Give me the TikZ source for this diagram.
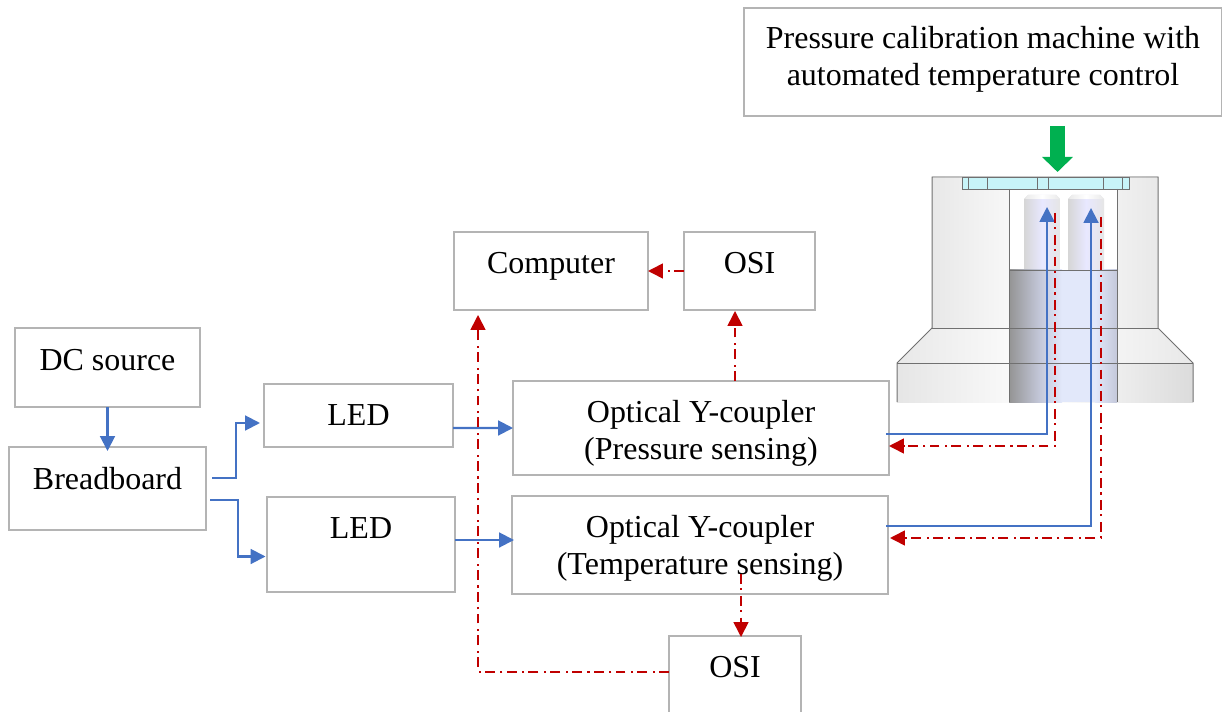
\documentclass[tikz,border=0pt]{standalone}
\usepackage{fontspec}
\setmainfont{Liberation Serif}
\usetikzlibrary{arrows.meta}
\definecolor{bluewire}{HTML}{4472C4}
\definecolor{redwire}{HTML}{C00000}
\definecolor{greenarrow}{HTML}{00B050}
\definecolor{boxgray}{HTML}{B4B4B4}
\definecolor{cutline}{HTML}{707070}
\definecolor{cylpale}{HTML}{E2E8FA}
\definecolor{cylmid}{HTML}{C4C8DA}
\definecolor{capcyan}{HTML}{C8F4F8}
\tikzset{
  blockbox/.style n args={2}{draw=boxgray, line width=0.9pt, inner sep=0pt, outer sep=0pt, align=center, minimum width=#1*0.02cm, minimum height=#2*0.02cm},
  drop/.style={text height=20*0.02cm, text depth=(20+2*(#1))*0.02cm},
  bluewire/.style={draw=bluewire, line width=1.15pt, ->},
  redwire/.style={draw=redwire, line width=0.95pt, ->, dash pattern=on 5.6pt off 2.4pt on 1.2pt off 3.2pt},
  cut/.style={cutline, line width=0.55pt},
}
\begin{document}
\begin{tikzpicture}[x=0.02cm, y=-0.02cm, >={Triangle[length=8.5pt,width=8.5pt]}, font=\fontsize{18.2}{21}\selectfont]
\useasboundingbox (0,0) rectangle (1222,712);
% machine
\shade[left color=black!9, right color=black!9, middle color=white] (932,177) rectangle (1158,328);
\shade[left color=black!9, right color=black!9, middle color=white] (932,328) -- (1158,328) -- (1193,363) -- (897,363) -- cycle;
\shade[left color=black!10, right color=black!14, middle color=white] (897,363) rectangle (1193,402);
\fill[white] (1009,189) rectangle (1117,270);
\foreach \x in {1024,1068} {
  \shade[left color=black!16, right color=black!10, middle color=blue!9] (\x,199) -- (\x+4,195) -- (\x+32,195) -- (\x+36,199) -- (\x+36,270) -- (\x,270) -- cycle;
  \shade[left color=black!8, right color=black!8, middle color=white] (\x+1,199) -- (\x+4,195) -- (\x+32,195) -- (\x+35,199) -- cycle;
}
\shade[left color=black!42, right color=cylmid] (1009,270) rectangle (1040,402);
\shade[left color=cylmid, right color=cylpale] (1040,270) rectangle (1062,402);
\fill[cylpale] (1062,270) rectangle (1095,402);
\shade[left color=cylpale, right color=cylmid] (1095,270) rectangle (1117,402);
\fill[capcyan] (962,177) rectangle (1129,189);
\draw[cut] (932,328) -- (932,177) -- (1158,177) -- (1158,328) -- (1193,363) -- (1193,402);
\draw[cut] (932,328) -- (897,363) -- (897,402);
\draw[cut] (932,328) -- (1158,328) (897,363) -- (1193,363);
\draw[cut] (1009,189) -- (1009,402) (1117,189) -- (1117,402) (1009,270) -- (1117,270);
\draw[cut] (962,177) rectangle (1129,189);
\foreach \x in {968,987,1037,1048,1103,1122} \draw[cut] (\x,177) -- (\x,189);
% blocks
\node[blockbox={478}{108}] (machine) at (983,62) {Pressure calibration machine with\\automated temperature control\rule[-7.4pt]{0pt}{7.4pt}};
\node[blockbox={194}{78}, drop=-3] (computer) at (551,271) {Computer};
\node[blockbox={131}{78}, drop=-3] (ositop) at (749.5,271) {OSI};
\node[blockbox={185}{79}, drop=-3] (dc) at (107.5,367.5) {DC source};
\node[blockbox={197}{83}, drop=-1] (board) at (107.5,488.5) {Breadboard};
\node[blockbox={189}{63}, drop=-10] (ledone) at (358.5,415.5) {LED};
\node[blockbox={188}{95}, drop=6] (ledtwo) at (361,544.5) {LED};
\node[blockbox={376}{94}] (ypress) at (701,428) {\rule{0pt}{19.1pt}Optical Y-coupler\\(Pressure sensing)};
\node[blockbox={376}{98}] (ytemp) at (700,545) {\rule{0pt}{16.6pt}Optical Y-coupler\\(Temperature sensing)};
\node[blockbox={132}{84}, drop=1] (osibot) at (735,678) {OSI};
% wires
\coordinate (pinone) at (1047,207);
\coordinate (pintwo) at (1091,208);
\coordinate (redone) at (1055,213);
\coordinate (redtwo) at (1101,217);
\draw[bluewire] (dc.south) -- ([shift={(0,4)}]board.north);
\draw[bluewire] ([shift={(6,-10.5)}]board.east) -- ++(24,0) |- ([shift={(-4,7.5)}]ledone.west);
\draw[bluewire] ([shift={(4,11.5)}]board.east) -- ++(28,0) |- ([shift={(-1.5,12)}]ledtwo.west);
\draw[bluewire] ([shift={(0,12.5)}]ledone.east) -- (ypress.west);
\draw[bluewire] ([shift={(0,-4.5)}]ledtwo.east) -- ([shift={(2,-5)}]ytemp.west);
\draw[bluewire] ([shift={(-3,6)}]ypress.east) -| (pinone);
\draw[bluewire] ([shift={(-2,-19)}]ytemp.east) -| (pintwo);
\draw[redwire] (redone) |- ([shift={(0,18)}]ypress.east);
\draw[redwire] (redtwo) |- ([shift={(2,-7)}]ytemp.east);
\draw[redwire] ([shift={(34,0)}]ypress.north) -- ([shift={(-14.5,1)}]ositop.south);
\draw[redwire] (ositop.west) -- (computer.east);
\draw[redwire] ([shift={(41,-20)}]ytemp.south) -- ([shift={(6,1)}]osibot.north);
\draw[redwire] ([shift={(0,-6)}]osibot.west) -| ([shift={(-73,5)}]computer.south);
\coordinate (press) at (1057.5,126);
\draw[greenarrow, line width=15*0.02cm, -{Triangle[length=15*0.02cm,width=30*0.02cm]}] (press) -- ([shift={(0,46)}]press);
\end{tikzpicture}
\end{document}
